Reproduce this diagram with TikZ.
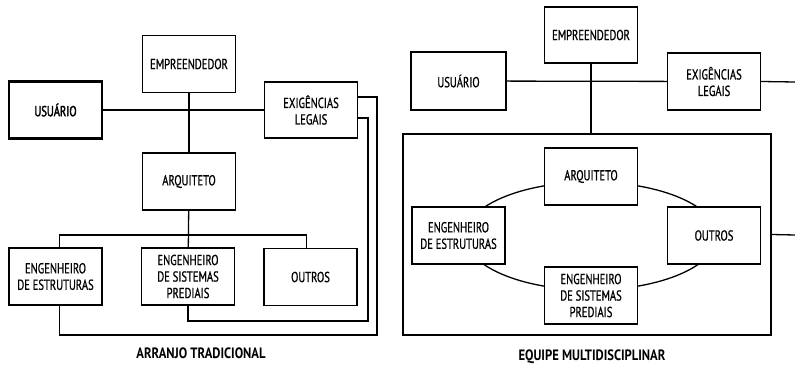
\documentclass[tikz,border=0pt]{standalone}
\usepackage{fontspec}
\setmainfont{PT Sans}[FakeStretch=0.84]
\newfontfamily\boxfont{PT Sans}[FakeStretch=0.73,FakeBold=0.8]
\newfontfamily\heavyfont{PT Sans}[FakeStretch=0.73,FakeBold=2.2]
\usetikzlibrary{shapes.geometric}
\begin{document}
\begin{tikzpicture}[x=1pt,y=-1pt]
		\tikzset{box/.style = {shape=rectangle,draw,line width=1.3pt,fill=white,minimum width=93pt,minimum height=57pt,align=center,inner sep=2pt,font=\boxfont\fontsize{14.5}{16.5}\selectfont}}
		\tikzset{link/.style = {draw,line width=1.3pt}}
		\tikzset{title/.style = {font=\fontsize{15}{16}\selectfont\bfseries}}
		\useasboundingbox (0,0) rectangle (795,366);
		% arranjo tradicional
		\node[box] (emp1) at (189,64) {EMPREENDEDOR};
		\node[box,line width=2.3pt,font=\heavyfont\fontsize{14.5}{16.5}\selectfont] (usu1) at (55.5,110) {USUÁRIO};
		\node[box,minimum height=56pt] (exi1) at (311,110) {EXIGÊNCIAS\\LEGAIS};
		\node[box] (arq1) at (189,181.5) {ARQUITETO};
		\node[box] (est1) at (55.5,276.5) {ENGENHEIRO\\DE ESTRUTURAS};
		\node[box] (sis1) at (188,276.5) {ENGENHEIRO\\DE SISTEMAS\\PREDIAIS};
		\node[box] (out1) at (310.5,277) {OUTROS};
		\coordinate (bus1) at (189,235);
		\coordinate (fb1) at (377,335);
		\coordinate (fb2) at (368,321);
		\path[link] (usu1) -- (exi1);
		\path[link] (emp1) -- (arq1);
		\path[link] (arq1) -- (sis1);
		\path[link] ([xshift=4pt]est1.north) |- (bus1) -| ([xshift=-4pt]out1.north);
		\path[link] ([yshift=13pt]exi1.east) -| (fb1) -| ([xshift=4pt]est1.south);
		\path[link] ([yshift=-8pt]exi1.east) -| (fb2) -| (sis1.south);
		\node[title] (tit1) at (201,353) {ARRANJO TRADICIONAL};
		% equipe multidisciplinar
		\node[box,minimum height=56pt] (emp2) at (591,35) {EMPREENDEDOR};
		\node[box,minimum width=95pt,minimum height=58pt] (usu2) at (458.5,81) {USUÁRIO};
		\node[box] (exi2) at (714,81.5) {EXIGÊNCIAS\\LEGAIS};
		\node[draw,line width=1.3pt,minimum width=368pt,minimum height=201pt] (team) at (587,234.5) {};
		\node[draw,ellipse,line width=1.3pt,minimum width=252pt,minimum height=108pt] (ring) at (591,236) {};
		\node[box] (arq2) at (591,176.5) {ARQUITETO};
		\node[box] (est2) at (458.5,235.5) {ENGENHEIRO\\DE ESTRUTURAS};
		\node[box] (out2) at (714,235.5) {OUTROS};
		\node[box] (sis2) at (591,295.5) {ENGENHEIRO\\DE SISTEMAS\\PREDIAIS};
		\coordinate (end1) at (795,82);
		\coordinate (end2) at (795,235);
		\path[link] (usu2) -- (exi2);
		\path[link] (emp2.south) -- (emp2.south |- team.north);
		\path[link] (exi2.east) -- (end1);
		\path[link] (team.east) -- (end2);
		\node[title] (tit2) at (592,357) {EQUIPE MULTIDISCIPLINAR};
	\end{tikzpicture}
\end{document}
